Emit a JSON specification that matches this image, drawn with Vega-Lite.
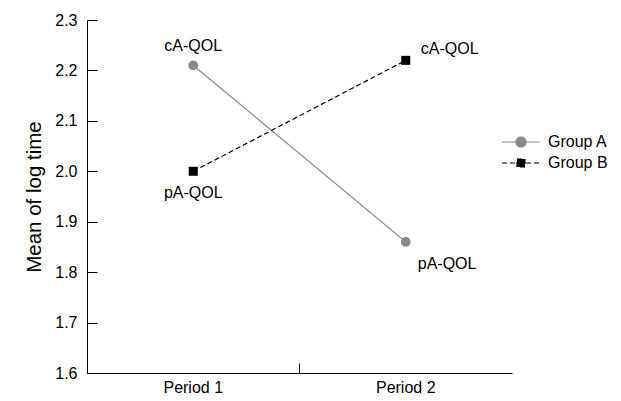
{
  "$schema": "https://vega.github.io/schema/vega-lite/v6.json",
  "width": 425,
  "height": 353,
  "autosize": {"type": "none"},
  "padding": {"left": 87, "top": 20, "right": 109, "bottom": 28},
  "background": "white",
  "config": {
    "font": "Liberation Sans",
    "view": {"stroke": null},
    "axis": {"grid": false, "domainColor": "black", "tickColor": "black", "labelColor": "black", "titleColor": "black", "labelFont": "Liberation Sans", "titleFont": "Liberation Sans"}
  },
  "data": {
    "values": [
      {"group": "Group A", "period": "Period 1", "mean": 2.21, "label": "cA-QOL"},
      {"group": "Group A", "period": "Period 2", "mean": 1.86, "label": "pA-QOL"},
      {"group": "Group B", "period": "Period 1", "mean": 2.0, "label": "pA-QOL"},
      {"group": "Group B", "period": "Period 2", "mean": 2.22, "label": "cA-QOL"}
    ]
  },
  "encoding": {
    "x": {
      "field": "period", "type": "nominal",
      "scale": {"type": "band", "paddingInner": 0, "paddingOuter": 0},
      "axis": {"title": null, "labelAngle": 0, "bandPosition": 0, "tickSize": -10, "labelPadding": 16, "labelFontSize": 16, "domainWidth": 1}
    },
    "y": {
      "field": "mean", "type": "quantitative",
      "scale": {"domain": [1.6, 2.3], "nice": false, "zero": false},
      "axis": {"title": "Mean of log time", "values": [1.6, 1.7, 1.8, 1.9, 2.0, 2.1, 2.2, 2.3], "format": ".1f", "tickSize": -10, "labelPadding": 20, "labelFontSize": 16, "titleFontSize": 20.5, "titleFontWeight": "normal", "titlePadding": 10}
    }
  },
  "layer": [
    {
      "mark": {"type": "line", "strokeWidth": 1.2},
      "encoding": {
        "color": {
          "field": "group", "type": "nominal",
          "scale": {"domain": ["Group A", "Group B"], "range": ["#8a8a8a", "#000000"]},
          "legend": {
            "title": null, "orient": "none", "legendX": 412, "legendY": 114,
            "labelFontSize": 16, "labelColor": "black", "labelOffset": 33, "rowPadding": 5,
            "symbolStrokeWidth": 1.2,
            "encode": {
              "symbols": {
                "update": {
                  "shape": {"signal": "datum.value === 'Group A' ? 'M-1,0H6.6M3.8,0A1,1 0 1,0 1.8,0A1,1 0 1,0 3.8,0Z' : 'M-1,0H6.6M2,-0.8H3.6V0.8H2Z'"},
                  "fill": {"signal": "datum.value === 'Group A' ? '#8a8a8a' : '#000000'"}
                }
              }
            }
          }
        },
        "strokeDash": {
          "field": "group", "type": "nominal",
          "scale": {"domain": ["Group A", "Group B"], "range": [[1, 0], [5, 3]]},
          "legend": null
        }
      }
    },
    {
      "transform": [{"filter": "datum.group === 'Group A'"}],
      "mark": {"type": "circle", "opacity": 1, "size": 95, "color": "#8a8a8a"}
    },
    {
      "transform": [{"filter": "datum.group === 'Group B'"}],
      "mark": {"type": "square", "opacity": 1, "size": 81, "color": "#000000"}
    },
    {
      "transform": [{"filter": "datum.group === 'Group A' && datum.period === 'Period 1'"}],
      "mark": {"type": "text", "fontSize": 16, "dy": -19, "align": "center", "color": "black"},
      "encoding": {"text": {"field": "label"}}
    },
    {
      "transform": [{"filter": "datum.group === 'Group B' && datum.period === 'Period 1'"}],
      "mark": {"type": "text", "fontSize": 16, "dy": 22, "align": "center", "color": "black"},
      "encoding": {"text": {"field": "label"}}
    },
    {
      "transform": [{"filter": "datum.group === 'Group B' && datum.period === 'Period 2'"}],
      "mark": {"type": "text", "fontSize": 16, "dx": 15, "dy": -11, "align": "left", "color": "black"},
      "encoding": {"text": {"field": "label"}}
    },
    {
      "transform": [{"filter": "datum.group === 'Group A' && datum.period === 'Period 2'"}],
      "mark": {"type": "text", "fontSize": 16, "dx": 12, "dy": 22, "align": "left", "color": "black"},
      "encoding": {"text": {"field": "label"}}
    }
  ]
}
